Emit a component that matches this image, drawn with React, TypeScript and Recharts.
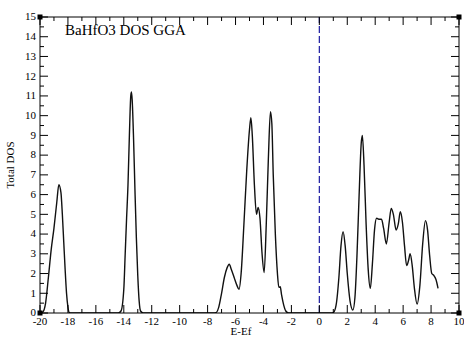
import React from "react";
import { LineChart, Line, XAxis, YAxis, ReferenceLine, ReferenceDot } from "recharts";

// energies (eV, relative to Ef) and total DOS
const energies = [
  -20, -19.8, -19.6, -19.4, -19.2, -19.0, -18.8, -18.65, -18.5, -18.4, -18.3, -18.2, -18.1, -18.0, -17.9, -17.8,
  -14.4, -14.2, -14.0, -13.9, -13.8, -13.7, -13.6, -13.5, -13.45, -13.4, -13.3, -13.2, -13.1, -13.0, -12.9, -12.8, -12.6,
  -7.6, -7.4, -7.2, -7.0, -6.8, -6.6, -6.45, -6.3, -6.1, -5.9, -5.75, -5.6, -5.4, -5.2, -5.0, -4.9, -4.8, -4.65, -4.5,
  -4.38, -4.25, -4.1, -3.95, -3.8, -3.65, -3.5, -3.4, -3.3, -3.15, -3.0, -2.9, -2.8, -2.7, -2.55, -2.4, -2.2,
  0.8, 1.0, 1.2, 1.4, 1.55, 1.7, 1.85, 2.0, 2.2, 2.4, 2.55, 2.7, 2.85, 3.0, 3.08, 3.2, 3.35, 3.5, 3.65, 3.8, 3.95,
  4.1, 4.3, 4.45, 4.6, 4.8, 5.0, 5.15, 5.3, 5.5, 5.65, 5.8, 5.95, 6.1, 6.25, 6.4, 6.5, 6.65, 6.8, 7.0, 7.2, 7.4,
  7.6, 7.75, 7.9, 8.05, 8.2, 8.35, 8.5,
];
const totalDos = [
  0, 0.05, 0.5, 1.8, 3.2, 4.3, 5.6, 6.5, 6.1, 5.0, 3.6, 2.2, 1.0, 0.3, 0.02, 0,
  0, 0.1, 1.2, 3.0, 4.8, 6.5, 9.0, 11.0, 11.2, 10.8, 8.8, 6.2, 3.8, 1.9, 0.6, 0.1, 0,
  0, 0.02, 0.3, 1.0, 1.8, 2.3, 2.47, 2.2, 1.8, 1.4, 1.2, 2.0, 4.5, 7.2, 9.3, 9.9, 9.0, 6.5, 5.0,
  5.35, 4.8, 3.0, 2.05, 4.5, 7.8, 10.2, 9.6, 7.0, 4.0, 2.0, 1.3, 1.33, 0.9, 0.4, 0.1, 0,
  0, 0.02, 0.4, 1.8, 3.4, 4.12, 3.4, 2.0, 0.6, 0.15, 0.8, 3.0, 6.0, 8.6, 9.0, 7.5, 4.5, 2.2, 1.25, 2.5, 4.2,
  4.8, 4.75, 4.75, 4.3, 3.5, 4.6, 5.3, 5.0, 4.2, 4.5, 5.13, 4.6, 3.4, 2.4, 2.7, 3.0, 2.4, 1.3, 0.45, 1.4, 3.5,
  4.68, 4.2, 2.9, 2.0, 1.9, 1.7, 1.25,
];

const xTicks = [-20, -19, -18, -17, -16, -15, -14, -13, -12, -11, -10, -9, -8, -7, -6, -5, -4, -3, -2, -1, 0, 1, 2, 3, 4, 5, 6, 7, 8, 9, 10];
const yTicks = [0, 0.5, 1, 1.5, 2, 2.5, 3, 3.5, 4, 4.5, 5, 5.5, 6, 6.5, 7, 7.5, 8, 8.5, 9, 9.5, 10, 10.5, 11, 11.5, 12, 12.5, 13, 13.5, 14, 14.5, 15];
const corners = [[-20, 0], [-20, 15], [10, 15], [10, 0]];

const data = energies.map((e, i) => ({ e, dos: totalDos[i] }));

const font = "'Liberation Serif', 'Times New Roman', serif";
const txt = { fontFamily: font, fontSize: 11 };

const isMajorX = (v: number) => v % 2 === 0;
const isMajorY = (v: number) => Number.isInteger(v);

const BottomTick = (p: any) => {
  const { x, y, payload } = p;
  const major = isMajorX(payload.value);
  return (
    <g>
      <line x1={x} y1={y} x2={x} y2={y - (major ? 8 : 4)} stroke="#000" />
      {major && (
        <text x={x} y={y + 11.5} textAnchor="middle" style={txt} fill="#000">
          {payload.value}
        </text>
      )}
    </g>
  );
};

const TopTick = (p: any) => {
  const { x, y, payload } = p;
  const major = isMajorX(payload.value);
  return <line x1={x} y1={y} x2={x} y2={y + (major ? 8 : 4)} stroke="#000" />;
};

const LeftTick = (p: any) => {
  const { x, y, payload } = p;
  const major = isMajorY(payload.value);
  return (
    <g>
      <line x1={x} y1={y} x2={x + (major ? 8 : 4)} y2={y} stroke="#000" />
      {major && (
        <text x={x - 4} y={y} dy="0.3em" textAnchor="end" style={txt} fill="#000">
          {payload.value}
        </text>
      )}
    </g>
  );
};

const RightTick = (p: any) => {
  const { x, y, payload } = p;
  const major = isMajorY(payload.value);
  return <line x1={x} y1={y} x2={x - (major ? 8 : 4)} y2={y} stroke="#000" />;
};

const Square = (p: any) => <rect x={p.cx - 2.5} y={p.cy - 2.5} width={5} height={5} fill="#000" />;

export default function App() {
  return (
    <div style={{ position: "absolute", left: 0, top: 0, width: 464, height: 338, background: "#fff" }}>
      <LineChart width={464} height={338} data={data} margin={{ top: 0, right: 0, bottom: 0, left: 0 }}>
        <XAxis
          xAxisId="b"
          dataKey="e"
          type="number"
          domain={[-20, 10]}
          ticks={xTicks}
          interval={0}
          allowDataOverflow
          height={25}
          tickSize={0}
          tickMargin={0}
          tick={BottomTick}
          tickLine={false}
          axisLine={{ stroke: "#000" }}
          label={{
            content: () => (
              <text x={241} y={334.5} textAnchor="middle" style={txt} fill="#000">
                E-Ef
              </text>
            ),
          }}
        />
        <XAxis
          xAxisId="t"
          orientation="top"
          dataKey="e"
          type="number"
          domain={[-20, 10]}
          ticks={xTicks}
          interval={0}
          allowDataOverflow
          height={17}
          tickSize={0}
          tickMargin={0}
          tick={TopTick}
          tickLine={false}
          axisLine={{ stroke: "#000" }}
        />
        <YAxis
          yAxisId="l"
          type="number"
          domain={[0, 15]}
          ticks={yTicks}
          interval={0}
          allowDataOverflow
          width={40}
          tickSize={0}
          tickMargin={0}
          tick={LeftTick}
          tickLine={false}
          axisLine={{ stroke: "#000" }}
          label={{
            content: () => (
              <text x={14} y={165} transform="rotate(-90 14 165)" textAnchor="middle" style={txt} fill="#000">
                Total DOS
              </text>
            ),
          }}
        />
        <YAxis
          yAxisId="r"
          orientation="right"
          type="number"
          domain={[0, 15]}
          ticks={yTicks}
          interval={0}
          allowDataOverflow
          width={5}
          tickSize={0}
          tickMargin={0}
          tick={RightTick}
          tickLine={false}
          axisLine={{ stroke: "#000" }}
        />
        <ReferenceLine xAxisId="b" yAxisId="l" x={0} stroke="#1a1aa0" strokeWidth={1.2} strokeDasharray="7 3" />
        <Line
          xAxisId="b"
          yAxisId="l"
          type="monotone"
          dataKey="dos"
          stroke="#111"
          strokeWidth={1.4}
          dot={false}
          activeDot={false}
          isAnimationActive={false}
        />
        <Line
          xAxisId="t"
          yAxisId="r"
          type="monotone"
          dataKey="dos"
          stroke="none"
          dot={false}
          activeDot={false}
          legendType="none"
          isAnimationActive={false}
        />
        {corners.map(([cx, cy], i) => (
          <ReferenceDot key={i} xAxisId="b" yAxisId="l" x={cx} y={cy} ifOverflow="visible" shape={Square} />
        ))}
      </LineChart>
      <div
        style={{
          position: "absolute",
          left: 65,
          top: 23,
          fontFamily: font,
          fontSize: 15,
          lineHeight: "15px",
          color: "#000",
          whiteSpace: "nowrap",
        }}
      >
        BaHfO3 DOS GGA
      </div>
    </div>
  );
}
